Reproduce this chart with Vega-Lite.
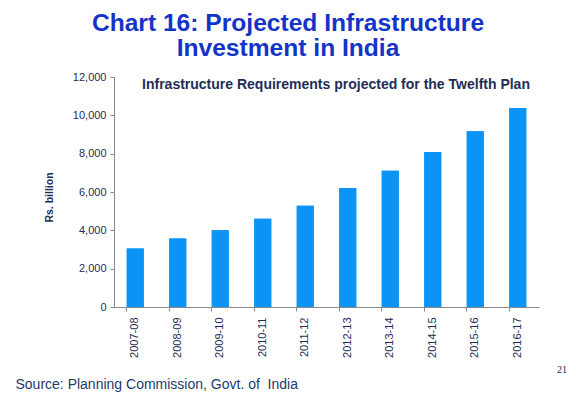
{
  "$schema": "https://vega.github.io/schema/vega-lite/v6.json",
  "autosize": {"type": "none"},
  "width": 425,
  "height": 230,
  "padding": {"left": 114, "top": 77, "right": 37, "bottom": 91},
  "background": "white",
  "config": {"view": {"stroke": null}, "font": "Liberation Sans"},
  "title": {
    "text": ["Chart 16: Projected Infrastructure", "Investment in India"],
    "anchor": "middle",
    "frame": "group",
    "dx": -38.5,
    "fontSize": 24.6,
    "lineHeight": 25,
    "fontWeight": "bold",
    "font": "Liberation Sans",
    "color": "#1434C8",
    "offset": 9
  },
  "data": {
    "values": [
      {"year": "2007-08", "value": 3050},
      {"year": "2008-09", "value": 3580},
      {"year": "2009-10", "value": 4010},
      {"year": "2010-11", "value": 4600},
      {"year": "2011-12", "value": 5280},
      {"year": "2012-13", "value": 6210},
      {"year": "2013-14", "value": 7110},
      {"year": "2014-15", "value": 8090},
      {"year": "2015-16", "value": 9170},
      {"year": "2016-17", "value": 10380}
    ]
  },
  "layer": [
    {
      "mark": {"type": "bar", "color": "#0B93F6"},
      "encoding": {
        "x": {
          "field": "year", "type": "ordinal", "sort": null,
          "scale": {"paddingInner": 0.6, "paddingOuter": 0.3},
          "axis": {
            "orient": "bottom",
            "labelAngle": -90, "labelFontSize": 11, "labelColor": "#1F2D56",
            "labelPadding": 6,
            "bandPosition": 0, "tickSize": 4, "tickColor": "#8A8A8A",
            "domainColor": "#8A8A8A",
            "title": "Source: Planning Commission, Govt. of\u00a0 India",
            "titleFontSize": 14, "titleFontWeight": "normal", "titleColor": "#1F3A6B",
            "titleX": -99, "titleY": 81, "titleAlign": "left", "titleBaseline": "alphabetic",
            "titleAnchor": "start"
          }
        },
        "y": {
          "field": "value", "type": "quantitative",
          "scale": {"domain": [0, 12000]},
          "axis": {
            "orient": "left",
            "values": [0, 2000, 4000, 6000, 8000, 10000, 12000],
            "format": ",.0f",
            "grid": false,
            "labelFontSize": 11, "labelColor": "#1F2D56", "labelPadding": 4,
            "tickSize": 4, "tickColor": "#8A8A8A", "domainColor": "#8A8A8A",
            "title": "Rs. billion",
            "titleFontSize": 10.5, "titleFontWeight": "bold", "titleColor": "#1F2D56",
            "titleX": -65, "titleY": 120, "titleAngle": -90,
            "titleAlign": "center", "titleBaseline": "middle"
          }
        }
      }
    },
    {
      "mark": {"type": "bar", "color": "#0B93F6"},
      "encoding": {
        "x": {
          "field": "year", "type": "ordinal", "sort": null,
          "axis": {
            "orient": "top",
            "labels": false, "ticks": false, "domain": false, "grid": false,
            "title": "Infrastructure Requirements projected for the Twelfth Plan",
            "titleFontSize": 14, "titleFontWeight": "bold", "titleColor": "#1F2D56",
            "titleX": 221.5, "titleY": 11, "titleAlign": "center", "titleBaseline": "alphabetic"
          }
        },
        "y": {
          "field": "value", "type": "quantitative",
          "axis": {
            "orient": "right",
            "labels": false, "ticks": false, "domain": false, "grid": false,
            "title": "21",
            "titleFont": "Liberation Serif",
            "titleFontSize": 10, "titleFontWeight": "normal", "titleColor": "#1F2D56",
            "titleX": 22.5, "titleY": 295, "titleAngle": 0,
            "titleAlign": "center", "titleBaseline": "alphabetic"
          }
        }
      }
    }
  ],
  "resolve": {"axis": {"x": "independent", "y": "independent"}}
}
